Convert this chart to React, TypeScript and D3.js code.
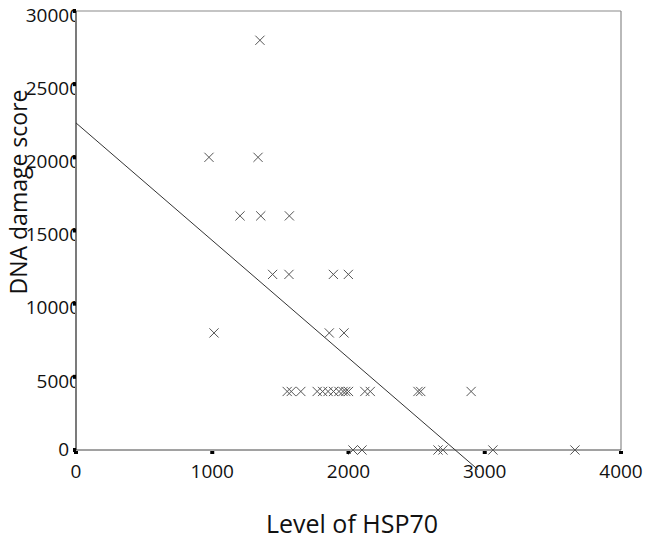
import React from "react";
import * as d3 from "d3";

// HSP70 level (x) and DNA damage score (y)
const hsp70 = [
  1350,
  976, 1336,
  1204, 1356, 1566,
  1443, 1563, 1889, 1999,
  1013, 1859, 1967,
  1550, 1580, 1650, 1770, 1810, 1850, 1890, 1930, 1960, 1980, 2000, 2120, 2160, 2510, 2530, 2900,
  2033, 2099, 2657, 2693, 3060, 3662,
];
const dnaDamage = [
  28000,
  20000, 20000,
  16000, 16000, 16000,
  12000, 12000, 12000, 12000,
  8000, 8000, 8000,
  4000, 4000, 4000, 4000, 4000, 4000, 4000, 4000, 4000, 4000, 4000, 4000, 4000, 4000, 4000, 4000,
  0, 0, 0, 0, 0, 0,
];

const xTicks = [0, 1000, 2000, 3000, 4000];
const yTicks = [0, 5000, 10000, 15000, 20000, 25000, 30000];

// fitted line as drawn
const fitIntercept = 22350;
const fitSlope = -8.03;
const fitRange = [0, 2950];

const W = 650;
const H = 542;
const font = "'Open Sans', sans-serif";

export default function App() {
  const x = d3.scaleLinear().domain([0, 4000]).range([76, 621]);
  const y = d3.scaleLinear().domain([0, 30000]).range([450, 11]);

  const fitLine = d3
    .line<number>()
    .x((d) => x(d))
    .y((d) => y(fitIntercept + fitSlope * d))(fitRange);

  const cross = 4.6;

  return (
    <svg
      width={W}
      height={H}
      style={{ position: "absolute", left: 0, top: 0, background: "#fff" }}
    >
      <defs>
        {/* y labels run under the axis, as in the original */}
        <clipPath id="ylab">
          <rect x={0} y={0} width={x(0) - 1} height={H} />
        </clipPath>
      </defs>

      {/* frame */}
      <line x1={x(0)} x2={x(4000)} y1={y(30000)} y2={y(30000)} stroke="#8a8a8a" strokeWidth={1.2} />
      <line x1={x(4000)} x2={x(4000)} y1={y(30000)} y2={y(0)} stroke="#8a8a8a" strokeWidth={1.2} />
      <line x1={x(0)} x2={x(4000)} y1={y(0)} y2={y(0)} stroke="#444" strokeWidth={1} />
      <line x1={x(0)} x2={x(0)} y1={y(30000)} y2={y(0)} stroke="#222" strokeWidth={1.2} />

      {/* x ticks */}
      {xTicks.map((t) => (
        <g key={"x" + t}>
          <rect x={x(t) - 2} y={y(0) + 1} width={4} height={3} fill="#000" />
          <text
            x={x(t)}
            y={478}
            textAnchor="middle"
            fontFamily={font}
            fontSize={19}
            fill="#111"
          >
            {t}
          </text>
        </g>
      ))}

      {/* y ticks */}
      <g clipPath="url(#ylab)">
        {yTicks.map((t) => (
          <text
            key={"yl" + t}
            x={t === 0 ? 69 : 80}
            y={t === 0 ? y(t) - 5 : y(t)}
            dy="0.57em"
            textAnchor="end"
            fontFamily={font}
            fontSize={19}
            fill="#111"
          >
            {t}
          </text>
        ))}
      </g>
      {yTicks.map((t) => (
        <rect key={"yt" + t} x={x(0) - 3} y={y(t) - 2} width={3} height={4} fill="#000" />
      ))}

      {/* regression line */}
      <path d={fitLine ?? ""} fill="none" stroke="#333" strokeWidth={1} />

      {/* points */}
      {hsp70.map((v, i) => {
        const cx = x(v);
        const cy = y(dnaDamage[i]);
        return (
          <path
            key={i}
            d={`M${cx - cross},${cy - cross}L${cx + cross},${cy + cross}M${cx - cross},${cy + cross}L${cx + cross},${cy - cross}`}
            stroke="#555"
            strokeWidth={1}
            fill="none"
          />
        );
      })}

      {/* axis titles */}
      <text
        transform={`translate(27,192) rotate(-90)`}
        textAnchor="middle"
        fontFamily={font}
        fontSize={23}
        fill="#111"
      >
        DNA damage score
      </text>
      <text
        x={352}
        y={533}
        textAnchor="middle"
        fontFamily={font}
        fontSize={25}
        fill="#111"
      >
        Level of HSP70
      </text>
    </svg>
  );
}
